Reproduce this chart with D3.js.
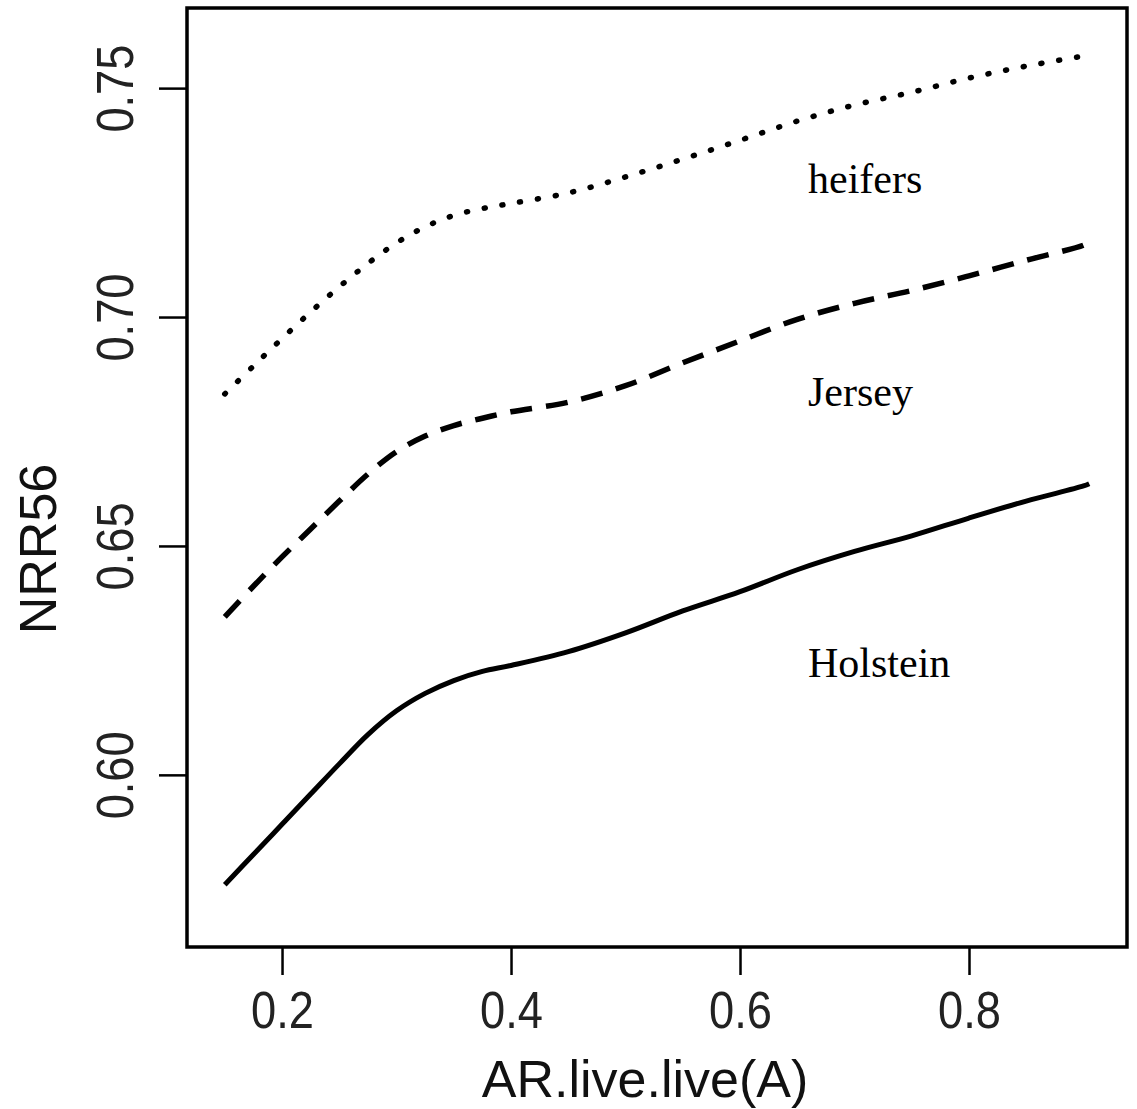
<!DOCTYPE html>
<html>
<head>
<meta charset="utf-8">
<script src="https://cdn.jsdelivr.net/npm/d3@7"></script>
<style>
  html, body { margin: 0; padding: 0; background: #fff; }
  svg { display: block; }
</style>
</head>
<body>
<script>
// Smoothed NRR56 curves against AR.live.live(A)
const arValues = [0.15, 0.175, 0.2, 0.225, 0.25, 0.275, 0.3, 0.325, 0.35, 0.375, 0.4,
                  0.45, 0.5, 0.55, 0.6, 0.65, 0.7, 0.75, 0.8, 0.85, 0.9, 0.905];

const holstein = [0.5760, 0.5826, 0.5892, 0.5958, 0.6024, 0.6088, 0.6140, 0.6178, 0.6206, 0.6226, 0.6239,
                  0.6269, 0.6310, 0.6358, 0.6400, 0.6448, 0.6488, 0.6522, 0.6561, 0.6598, 0.6631, 0.6636];
const jersey   = [0.6345, 0.6412, 0.6476, 0.6537, 0.6598, 0.6657, 0.6706, 0.6740, 0.6763, 0.6779, 0.6793,
                  0.6814, 0.6850, 0.6900, 0.6948, 0.6995, 0.7030, 0.7058, 0.7090, 0.7124, 0.7157, 0.7164];
const heifers  = [0.6832, 0.6893, 0.6953, 0.7011, 0.7066, 0.7117, 0.7162, 0.7197, 0.7222, 0.7237, 0.7248,
                  0.7271, 0.7306, 0.7345, 0.7386, 0.7428, 0.7463, 0.7491, 0.7522, 0.7548, 0.7570, 0.7572];

const xTicks = [0.2, 0.4, 0.6, 0.8];
const yTicks = [0.60, 0.65, 0.70, 0.75];
const xTickLabels = ["0.2", "0.4", "0.6", "0.8"];
const yTickLabels = ["0.60", "0.65", "0.70", "0.75"];

const seriesNames = ["Holstein", "Jersey", "heifers"];
const seriesValues = [holstein, jersey, heifers];
const seriesDash = [null, "22 14", "1 17"];

// label anchors in data units
const labelX = [0.6594, 0.6594, 0.6594];
const labelY = [0.6214, 0.6806, 0.7271];

const W = 1137, H = 1109;
const plot = { left: 187, right: 1127, top: 8, bottom: 947 };

const svg = d3.select("body").append("svg")
  .attr("width", W).attr("height", H);
svg.append("rect").attr("width", W).attr("height", H).attr("fill", "#fff");

const x = d3.scaleLinear().domain([0.1170, 0.9380]).range([plot.left, plot.right]);
const y = d3.scaleLinear().domain([0.5624, 0.7675]).range([plot.bottom, plot.top]);

const line = d3.line()
  .x(d => x(d[0]))
  .y(d => y(d[1]))
  .curve(d3.curveCatmullRom.alpha(0.5));

seriesValues.forEach((vals, i) => {
  const pts = arValues.map((a, j) => [a, vals[j]]);
  const p = svg.append("path")
    .datum(pts)
    .attr("d", line)
    .attr("fill", "none")
    .attr("stroke", "#000")
    .attr("stroke-width", i === 0 ? 5 : 5.5)
    .attr("stroke-linejoin", "round")
    .attr("stroke-linecap", i === 2 ? "round" : "butt");
  if (seriesDash[i]) p.attr("stroke-dasharray", seriesDash[i]);
});

// series labels
seriesNames.forEach((name, i) => {
  svg.append("text")
    .attr("x", x(labelX[i]))
    .attr("y", y(labelY[i]))
    .attr("font-family", "'Liberation Serif', 'Times New Roman', serif")
    .attr("font-size", 42)
    .attr("fill", "#000")
    .text(name);
});

// plot frame
svg.append("rect")
  .attr("x", plot.left).attr("y", plot.top)
  .attr("width", plot.right - plot.left)
  .attr("height", plot.bottom - plot.top)
  .attr("fill", "none")
  .attr("stroke", "#000")
  .attr("stroke-width", 3.5);

const sans = "'Liberation Sans', Arial, Helvetica, sans-serif";

// x axis
const gx = svg.append("g")
  .attr("transform", `translate(0,${plot.bottom})`)
  .call(d3.axisBottom(x).tickValues(xTicks)
    .tickFormat((d, i) => xTickLabels[i])
    .tickSize(28).tickSizeOuter(0));
gx.select(".domain").remove();
gx.selectAll(".tick line").attr("stroke", "#000").attr("stroke-width", 2.5);
gx.selectAll(".tick text")
  .attr("y", 0).attr("dy", 0)
  .attr("transform", "translate(0,81) scale(0.87,1)")
  .attr("font-family", sans)
  .attr("font-size", 52)
  .attr("fill", "#222");

// y axis
const gy = svg.append("g")
  .attr("transform", `translate(${plot.left},0)`)
  .call(d3.axisLeft(y).tickValues(yTicks)
    .tickFormat((d, i) => yTickLabels[i])
    .tickSize(28).tickSizeOuter(0));
gy.select(".domain").remove();
gy.selectAll(".tick line").attr("stroke", "#000").attr("stroke-width", 2.5);
gy.selectAll(".tick text")
  .attr("x", 0).attr("dy", 0)
  .attr("text-anchor", "middle")
  .attr("transform", "translate(-54,0) rotate(-90) scale(0.87,1)")
  .attr("font-family", sans)
  .attr("font-size", 52)
  .attr("fill", "#222");

// axis titles
svg.append("text")
  .attr("x", 645).attr("y", 1097)
  .attr("text-anchor", "middle")
  .attr("font-family", sans)
  .attr("font-size", 52)
  .attr("fill", "#111")
  .text("AR.live.live(A)");

svg.append("text")
  .attr("transform", "translate(56,549) rotate(-90)")
  .attr("text-anchor", "middle")
  .attr("font-family", sans)
  .attr("font-size", 52)
  .attr("fill", "#111")
  .text("NRR56");
</script>
</body>
</html>
